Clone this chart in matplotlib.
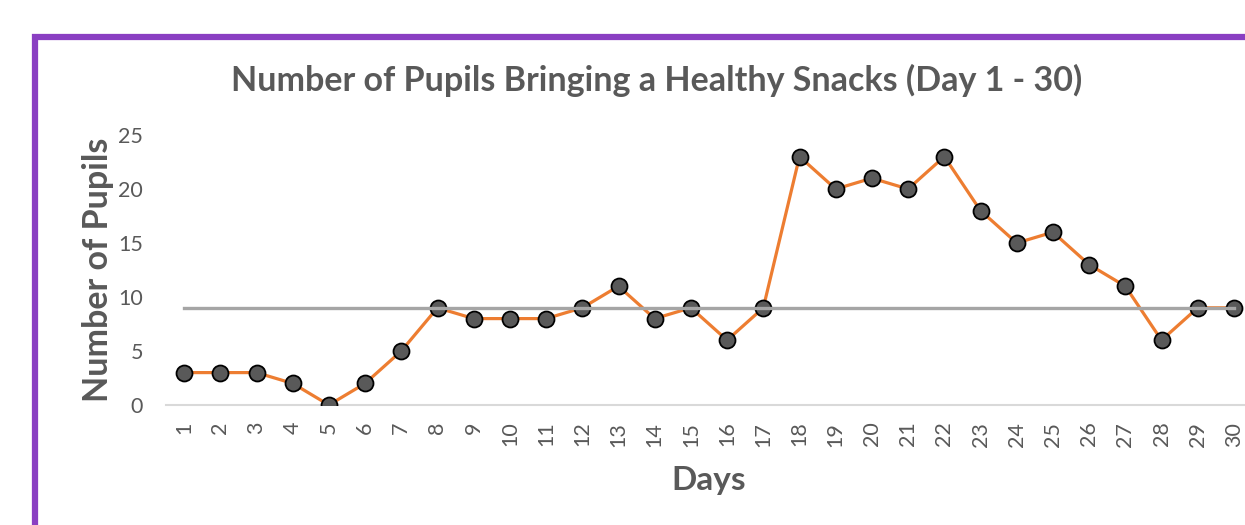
import matplotlib
matplotlib.use("Agg")
import matplotlib.pyplot as plt
from matplotlib.patches import Rectangle

days = list(range(1, 31))
pupils = [3, 3, 3, 2, 0, 2, 5, 9, 8, 8, 8, 9, 11, 8, 9, 6, 9, 23, 20, 21, 20, 23, 18, 15, 16, 13, 11, 6, 9, 9]
target = [9] * 30
yticks = [0, 5, 10, 15, 20, 25]
title = "Number of Pupils Bringing a Healthy Snacks (Day 1 - 30)"

plt.rcParams['font.family'] = ['Lato', 'DejaVu Sans']
gray = '#595959'

fig = plt.figure(figsize=(12.45, 5.25), dpi=100)
ax = fig.add_axes([166/1245, 120/525, 1086/1245, 270/525])

ax.plot(days, pupils, color='#ED7D31', lw=2.3, marker='o', markersize=11.5,
        markerfacecolor='#595959', markeredgecolor='black', markeredgewidth=1.3, zorder=3)
ax.plot(days, target, color='#A5A5A5', lw=2.4, zorder=4)

ax.set_xlim(0.5, 30.5)
ax.set_ylim(0, 25)
ax.set_yticks(yticks)
ax.set_xticks(days)
ax.set_xticklabels([str(d) for d in days], rotation=90)
for s in ['top', 'right', 'left']:
    ax.spines[s].set_visible(False)
ax.spines['bottom'].set_color('#D9D9D9')
ax.spines['bottom'].set_linewidth(1.5)
ax.spines['bottom'].set_zorder(1)
ax.tick_params(axis='both', length=0, colors=gray, labelsize=15.5)
ax.tick_params(axis='y', pad=16.5)
ax.tick_params(axis='x', pad=12)

ax.set_xlabel("Days", fontsize=24, fontweight='bold', color=gray, labelpad=14)
ax.set_ylabel("Number of Pupils", fontsize=24.5, fontweight='bold', color=gray, labelpad=3)
fig.text(657/1245, 1 - 80/525, title, ha='center', va='center', fontsize=24.5,
         fontweight='bold', color=gray)

border = Rectangle((35/1245, -0.2), 1.3, 1 - 37/525 + 0.2, transform=fig.transFigure,
                   fill=False, edgecolor='#8A3FC2', linewidth=4.5, clip_on=False)
fig.patches.append(border)

fig.savefig("out.png", dpi=100)
